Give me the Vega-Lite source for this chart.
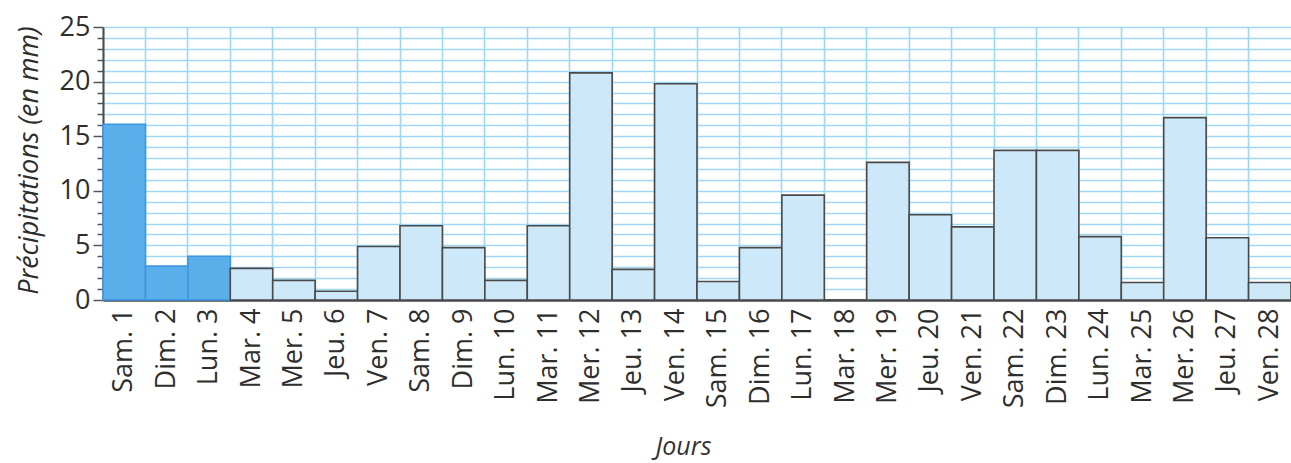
{
  "$schema": "https://vega.github.io/schema/vega-lite/v6.json",
  "width": 1188,
  "height": 273,
  "autosize": {"type": "none"},
  "padding": {"left": 103, "top": 27, "right": 0, "bottom": 163},
  "background": "#ffffff",
  "config": {
    "view": {"stroke": null},
    "font": "Open Sans"
  },
  "data": {
    "values": [
      {"jour": "Sam. 1", "mm": 16.1, "groupe": "A"},
      {"jour": "Dim. 2", "mm": 3.1, "groupe": "A"},
      {"jour": "Lun. 3", "mm": 4.0, "groupe": "A"},
      {"jour": "Mar. 4", "mm": 2.9, "groupe": "B"},
      {"jour": "Mer. 5", "mm": 1.8, "groupe": "B"},
      {"jour": "Jeu. 6", "mm": 0.8, "groupe": "B"},
      {"jour": "Ven. 7", "mm": 4.9, "groupe": "B"},
      {"jour": "Sam. 8", "mm": 6.8, "groupe": "B"},
      {"jour": "Dim. 9", "mm": 4.8, "groupe": "B"},
      {"jour": "Lun. 10", "mm": 1.8, "groupe": "B"},
      {"jour": "Mar. 11", "mm": 6.8, "groupe": "B"},
      {"jour": "Mer. 12", "mm": 20.8, "groupe": "B"},
      {"jour": "Jeu. 13", "mm": 2.8, "groupe": "B"},
      {"jour": "Ven. 14", "mm": 19.8, "groupe": "B"},
      {"jour": "Sam. 15", "mm": 1.7, "groupe": "B"},
      {"jour": "Dim. 16", "mm": 4.8, "groupe": "B"},
      {"jour": "Lun. 17", "mm": 9.6, "groupe": "B"},
      {"jour": "Mar. 18", "mm": 0, "groupe": "B"},
      {"jour": "Mer. 19", "mm": 12.6, "groupe": "B"},
      {"jour": "Jeu. 20", "mm": 7.8, "groupe": "B"},
      {"jour": "Ven. 21", "mm": 6.7, "groupe": "B"},
      {"jour": "Sam. 22", "mm": 13.7, "groupe": "B"},
      {"jour": "Dim. 23", "mm": 13.7, "groupe": "B"},
      {"jour": "Lun. 24", "mm": 5.8, "groupe": "B"},
      {"jour": "Mar. 25", "mm": 1.6, "groupe": "B"},
      {"jour": "Mer. 26", "mm": 16.7, "groupe": "B"},
      {"jour": "Jeu. 27", "mm": 5.7, "groupe": "B"},
      {"jour": "Ven. 28", "mm": 1.6, "groupe": "B"}
    ]
  },
  "mark": {"type": "bar", "strokeWidth": 1.6},
  "encoding": {
    "x": {
      "field": "jour",
      "type": "nominal",
      "sort": null,
      "scale": {"paddingInner": 0, "paddingOuter": 0},
      "axis": {
        "title": "Jours",
        "titleFont": "Open Sans",
        "titleFontStyle": "italic",
        "titleFontWeight": "normal",
        "titleFontSize": 25,
        "titleColor": "#333333",
        "titleX": 580,
        "titleY": 154,
        "titleAlign": "center",
        "titleBaseline": "alphabetic",
        "labelAngle": -90,
        "labelAlign": "right",
        "labelBaseline": "middle",
        "labelFont": "Open Sans",
        "labelFontSize": 27,
        "labelFontWeight": 500,
        "labelColor": "#2e2e2e",
        "labelPadding": 8,
        "ticks": false,
        "bandPosition": 0,
        "grid": true,
        "gridColor": "#9fd6f3",
        "gridWidth": 1.6,
        "domainColor": "#4a4a4a",
        "domainWidth": 2.5,
        "zindex": 0
      }
    },
    "y": {
      "field": "mm",
      "type": "quantitative",
      "scale": {"domain": [0, 25], "nice": false},
      "axis": {
        "title": "Précipitations  (en mm)",
        "titleFont": "Open Sans",
        "titleFontStyle": "italic",
        "titleFontWeight": 500,
        "titleFontSize": 27,
        "titleColor": "#2e2e2e",
        "titleAngle": -90,
        "titleX": -74,
        "titleY": 133,
        "titleAlign": "center",
        "titleBaseline": "middle",
        "values": [0,1,2,3,4,5,6,7,8,9,10,11,12,13,14,15,16,17,18,19,20,21,22,23,24,25],
        "labelExpr": "datum.value % 5 === 0 ? datum.label : ''",
        "labelFont": "Open Sans",
        "labelFontSize": 27,
        "labelFontWeight": 500,
        "labelColor": "#2e2e2e",
        "labelPadding": 3,
        "tickColor": "#555555",
        "tickWidth": 1.5,
        "tickSize": {"condition": {"test": "datum.value % 5 === 0", "value": 10}, "value": 6},
        "grid": true,
        "gridColor": "#9fd6f3",
        "gridWidth": 1.4,
        "domainColor": "#4a4a4a",
        "domainWidth": 2,
        "zindex": 0
      }
    },
    "fill": {
      "field": "groupe",
      "type": "nominal",
      "scale": {"domain": ["A", "B"], "range": ["#5aaeea", "#cde8f8"]},
      "legend": null
    },
    "stroke": {
      "field": "groupe",
      "type": "nominal",
      "scale": {"domain": ["A", "B"], "range": ["#3d97e0", "#4a4a4a"]},
      "legend": null
    }
  }
}
